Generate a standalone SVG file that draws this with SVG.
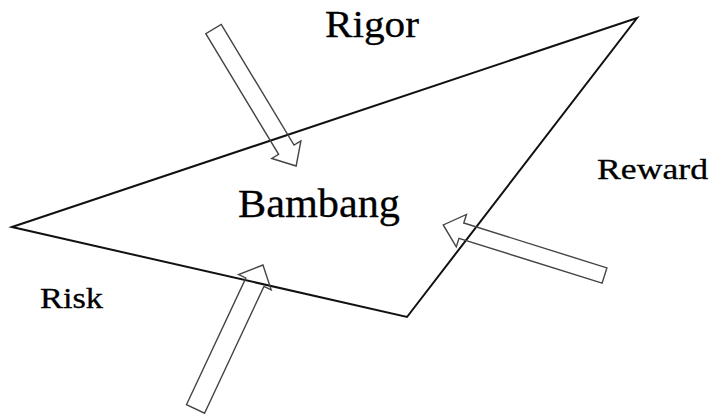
<svg xmlns="http://www.w3.org/2000/svg" width="713" height="414" viewBox="0 0 713 414">
<style>
.lbl{font-family:"Liberation Serif","Times New Roman",serif;fill:#000;stroke:#000;stroke-width:0.3}
.arr{fill:none;stroke:#444;stroke-width:1.4;stroke-linejoin:miter}
.tri{fill:none;stroke:#111;stroke-width:2;stroke-linejoin:miter}
</style>
<rect width="713" height="414" fill="#fff"/>
<g id="triangle">
<polygon class="tri" points="12,227 637,18 407,317"/>
</g>
<g id="connectors">
<polygon class="arr" transform="translate(213.5,29) rotate(58.9)" points="0,-9 141,-9 141,-17 160,0 141,17 141,9 0,9"/>
<polygon class="arr" transform="translate(604.5,275.5) rotate(197.4)" points="0,-8 150,-8 150,-17 169,0 150,17 150,8 0,8"/>
<polygon class="arr" transform="translate(195.5,409) rotate(-64.9)" points="0,-10 140,-10 140,-18 159,0 140,18 140,10 0,10"/>
</g>
<g id="rigor"><text class="lbl" x="325" y="37" font-size="37" textLength="94" lengthAdjust="spacingAndGlyphs">Rigor</text></g>
<g id="bambang"><text class="lbl" x="238" y="217" font-size="41" textLength="162" lengthAdjust="spacingAndGlyphs">Bambang</text></g>
<g id="reward"><text class="lbl" x="597" y="179" font-size="30" textLength="111" lengthAdjust="spacingAndGlyphs">Reward</text></g>
<g id="risk"><text class="lbl" x="40" y="308" font-size="29" textLength="63" lengthAdjust="spacingAndGlyphs">Risk</text></g>
</svg>
